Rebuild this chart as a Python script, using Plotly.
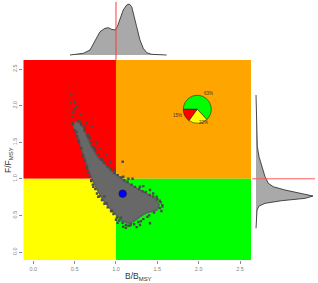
import plotly.graph_objects as go

W, H = 318, 283

# ---------------- data ----------------
# main cloud outline (B/Bmsy, F/Fmsy)
cloud_B = [0.504, 0.556, 0.605, 0.645, 0.686, 0.734, 0.786, 0.867, 0.948, 1.048, 1.149, 1.250,
           1.371, 1.472, 1.524, 1.492, 1.371, 1.290, 1.209, 1.149, 1.069, 1.000, 0.927, 0.846,
           0.774, 0.726, 0.686, 0.645, 0.605, 0.565, 0.525, 0.484]
cloud_F = [1.780, 1.758, 1.690, 1.575, 1.462, 1.370, 1.280, 1.189, 1.097, 1.020, 0.938, 0.870,
           0.802, 0.734, 0.642, 0.574, 0.537, 0.482, 0.414, 0.392, 0.428, 0.505, 0.597, 0.710,
           0.847, 0.960, 1.075, 1.212, 1.348, 1.485, 1.622, 1.712]
# scattered iterations around the cloud
pts_B = [0.456, 0.496, 0.444, 0.484, 0.472, 0.565, 0.645, 0.706, 0.767, 0.807, 0.888, 0.927,
         1.081, 1.088, 1.150, 1.290, 1.411, 1.492, 1.088, 1.150, 1.290, 1.411, 1.060, 0.888,
         0.786, 0.726, 0.700, 0.645, 0.545, 0.520, 0.600, 0.540, 0.680, 0.740, 0.830, 0.980,
         1.200, 1.330, 1.450, 1.530, 1.560, 1.250, 1.000, 1.020, 0.950, 0.620, 0.580, 0.500,
         0.470, 0.760, 1.120, 1.380, 1.180, 1.300, 0.860, 1.550, 0.530, 0.660,
         0.58, 0.62, 0.66, 0.70, 0.72, 0.75, 0.79, 0.82, 0.86, 0.90, 0.94, 0.98, 1.02, 1.06,
         1.10, 1.14, 1.19, 1.23, 1.28, 1.32, 1.36, 1.41, 1.45, 1.50, 1.54, 1.56, 1.53,
         0.47, 0.50, 0.53, 0.55, 0.58, 0.60, 0.62, 0.64, 0.66, 0.68, 0.70, 0.72, 0.75, 0.77,
         0.80, 0.83, 0.86, 0.90, 0.94, 0.97, 1.01, 1.04, 1.08, 1.12, 1.17, 1.22, 1.27, 1.33,
         1.40, 1.46]
pts_F = [2.145, 2.053, 2.045, 1.917, 1.849, 1.780, 1.758, 1.712, 1.485, 1.417, 1.325, 1.234,
         1.234, 1.029, 1.000, 0.892, 0.847, 0.755, 0.346, 0.360, 0.369, 0.392, 0.470, 0.665,
         0.755, 0.892, 0.980, 1.150, 1.530, 1.640, 1.300, 1.800, 1.560, 1.420, 1.260, 1.120,
         1.000, 0.900, 0.800, 0.700, 0.620, 0.340, 0.440, 0.400, 0.560, 1.700, 1.880, 1.960,
         1.760, 1.500, 0.330, 0.480, 0.380, 0.420, 0.760, 0.560, 1.980, 1.600,
         1.74, 1.66, 1.58, 1.50, 1.44, 1.39, 1.33, 1.27, 1.22, 1.17, 1.13, 1.08, 1.05, 1.02,
         0.98, 0.96, 0.92, 0.89, 0.86, 0.83, 0.82, 0.78, 0.76, 0.72, 0.68, 0.64, 0.60,
         1.74, 1.66, 1.58, 1.50, 1.42, 1.32, 1.25, 1.17, 1.09, 1.03, 0.97, 0.92, 0.86, 0.80,
         0.76, 0.71, 0.66, 0.61, 0.56, 0.52, 0.47, 0.43, 0.40, 0.37, 0.36, 0.38, 0.41, 0.45,
         0.50, 0.54]
current_B = [1.081]
current_F = [0.797]

# marginal density of B/Bmsy (relative height)
densB_x = [0.444, 0.605, 0.686, 0.729, 0.767, 0.807, 0.867, 0.907, 0.948, 0.988, 1.016, 1.048,
           1.088, 1.129, 1.161, 1.190, 1.218, 1.250, 1.290, 1.330, 1.371, 1.432, 1.613]
densB_h = [0.0, 0.033, 0.098, 0.229, 0.359, 0.457, 0.523, 0.536, 0.503, 0.490, 0.556, 0.719,
           0.882, 0.980, 1.0, 0.948, 0.784, 0.556, 0.294, 0.131, 0.046, 0.013, 0.0]
# marginal density of F/Fmsy (relative height)
densF_y = [2.145, 1.895, 1.667, 1.439, 1.302, 1.165, 1.029, 0.938, 0.892, 0.847, 0.802, 0.765,
           0.733, 0.701, 0.665, 0.628, 0.574, 0.437, 0.324]
densF_h = [0.0, 0.005, 0.012, 0.023, 0.053, 0.099, 0.158, 0.216, 0.304, 0.509, 0.801, 1.0,
           0.86, 0.45, 0.158, 0.053, 0.018, 0.006, 0.0]

# pie of quadrant shares
pie_labels = ["63%", "15%", "22%"]
pie_values = [63, 15, 22]
pie_colors = ["#00FF00", "#FF0000", "#FFFF00"]

ticks = [0.0, 0.5, 1.0, 1.5, 2.0, 2.5]
tick_text = ["0.0", "0.5", "1.0", "1.5", "2.0", "2.5"]

# ---------------- layout geometry ----------------
XR = [-0.121, 2.633]
YR = [-0.109, 2.623]
px = lambda v: v / W
py = lambda v: 1 - v / H

fig = go.Figure()

# cloud
fig.add_trace(go.Scatter(x=cloud_B, y=cloud_F, mode="lines", fill="toself",
                         fillcolor="#686868", line=dict(color="#5e5e5e", width=1.5),
                         xaxis="x", yaxis="y", hoverinfo="skip"))
fig.add_trace(go.Scatter(x=pts_B, y=pts_F, mode="markers",
                         marker=dict(symbol="square", size=2.4, color="#4a4a4a"),
                         xaxis="x", yaxis="y"))
fig.add_trace(go.Scatter(x=current_B, y=current_F, mode="markers",
                         marker=dict(size=7.5, color="#0000FF", line=dict(color="#1a1a4a", width=0.8)),
                         xaxis="x", yaxis="y"))

# top density
fig.add_trace(go.Scatter(x=densB_x, y=densB_h, mode="lines", fill="tozeroy",
                         fillcolor="#A9A9A9", line=dict(color="#222222", width=0.8),
                         xaxis="x2", yaxis="y2"))
# right density
fig.add_trace(go.Scatter(x=densF_h, y=densF_y, mode="lines", fill="tozerox",
                         fillcolor="#A9A9A9", line=dict(color="#222222", width=0.8),
                         xaxis="x3", yaxis="y3"))

# pie
fig.add_trace(go.Pie(values=pie_values, labels=pie_labels, sort=False, direction="counterclockwise",
                     rotation=-90, textinfo="none", hoverinfo="skip", showlegend=False,
                     marker=dict(colors=pie_colors, line=dict(color="#222222", width=0.6)),
                     domain=dict(x=[px(183.3), px(211.3)], y=[py(123.3), py(95.3)])))

shapes = []
quads = [(XR[0], 1, 1, YR[1], "#FF0000"), (1, XR[1], 1, YR[1], "#FFA500"),
         (XR[0], 1, YR[0], 1, "#FFFF00"), (1, XR[1], YR[0], 1, "#00FF00")]
for x0, x1, y0, y1, c in quads:
    shapes.append(dict(type="rect", xref="x", yref="y", x0=x0, x1=x1, y0=y0, y1=y1,
                       fillcolor=c, line=dict(width=0), layer="below"))
# red reference lines on marginals
shapes.append(dict(type="line", xref="x2", yref="y2", x0=1, x1=1, y0=-0.1, y1=1.04,
                   line=dict(color="#FF3B3B", width=1)))
shapes.append(dict(type="line", xref="x3", yref="y3", x0=-0.07, x1=1.035, y0=1, y1=1,
                   line=dict(color="#FF5A5A", width=1)))

def ann(text, x, y, size, angle=0, color="#333333"):
    return dict(text=text, x=px(x), y=py(y), xref="paper", yref="paper", showarrow=False,
                xanchor="center", yanchor="middle", textangle=angle,
                font=dict(size=size, color=color, family="Liberation Sans"))

annotations = [
    ann("B/B<sub>MSY</sub>", 138, 276, 8.5),
    ann("F/F<sub>MSY</sub>", 8, 160, 8.5, angle=-90),
    ann(pie_labels[0], 208.5, 94, 4.5),
    ann(pie_labels[1], 177.5, 115.5, 4.5),
    ann(pie_labels[2], 203.5, 122.5, 4.5),
]

tickfont = dict(size=5.5, color="#7f7f7f", family="Liberation Sans")
fig.update_layout(
    width=W, height=H, margin=dict(l=0, r=0, t=0, b=0),
    paper_bgcolor="white", plot_bgcolor="rgba(0,0,0,0)", showlegend=False,
    shapes=shapes, annotations=annotations,
    xaxis=dict(domain=[px(23.3), px(251)], range=XR, tickvals=ticks, ticktext=tick_text,
               ticks="outside", ticklen=3, tickcolor="#8a8a8a", tickwidth=0.6, tickfont=tickfont,
               showgrid=False, zeroline=False, showline=False, anchor="y"),
    yaxis=dict(domain=[py(260), py(60)], range=YR, tickvals=ticks, ticktext=tick_text,
               ticks="outside", ticklen=3, tickcolor="#8a8a8a", tickwidth=0.6, tickfont=tickfont,
               tickangle=-90, showgrid=False, zeroline=False, showline=False, anchor="x"),
    xaxis2=dict(domain=[px(23.3), px(251)], range=XR, visible=False, anchor="y2"),
    yaxis2=dict(domain=[py(60), 1], range=[-0.098, 1.078], visible=False, anchor="x2"),
    xaxis3=dict(domain=[px(251), 1], range=[-0.088, 1.088], visible=False, anchor="y3"),
    yaxis3=dict(domain=[py(260), py(60)], range=YR, visible=False, anchor="x3"),
)

fig.write_html("out.html")
